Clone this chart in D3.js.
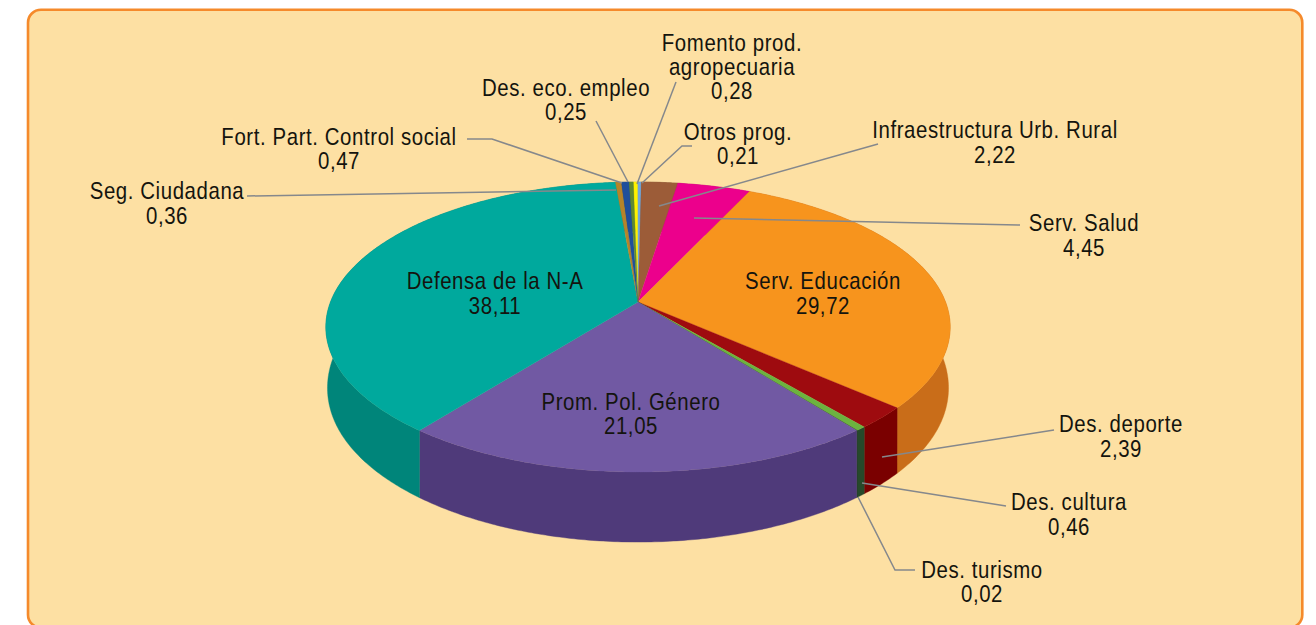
<!DOCTYPE html>
<html><head><meta charset="utf-8">
<script src="https://cdn.jsdelivr.net/npm/d3@7/dist/d3.min.js"></script>
<style>html,body{margin:0;padding:0;background:#fff;overflow:hidden}svg{display:block}
text{font-family:"Liberation Sans",sans-serif;font-size:24px;letter-spacing:.7px;fill:#14140e;text-anchor:middle}</style>
</head><body><svg id="c" width="1316" height="625"></svg>
<script>
const categories=["Fomento prod.|agropecuaria","Otros prog.","Infraestructura Urb. Rural","Serv. Salud","Serv. Educación","Des. deporte","Des. cultura","Des. turismo","Prom. Pol. Género","Defensa de la N-A","Seg. Ciudadana","Fort. Part. Control social","Des. eco. empleo"];
const values=[0.28,0.21,2.22,4.45,29.72,2.39,0.46,0.02,21.05,38.11,0.36,0.47,0.25];
const valueLabels=["0,28","0,21","2,22","4,45","29,72","2,39","0,46","0,02","21,05","38,11","0,36","0,47","0,25"];
const topColors=["#fff200","#6fa8dc","#9c5c38","#ec008c","#f7941d","#9e0b0f","#6cb33f","#26492a","#7159a3","#00a99d","#b5842a","#1f4f9c","#5f8a33"];
const sideColors=["#ccc200","#5686b0","#7c4a2c","#bd0070","#c96d19","#7a0000","#26492a","#1c3620","#4f3a7a","#00857a","#90691f","#183e7c","#4c6e28"];
// label layout: centre x, baseline of each line
const labelPos=[[732,51,24],[738,140,24],[995,138,25],[1084,231,25],[823,289,25],[1121,432,25],[1069,510,25],[982,578,24],[631,410,24],[495,289,25],[167,199,25],[339,145,24],[566,96,24]];
// leader polylines in page space (null = none)
const leaders=[[[676,82],[637,184]],[[692,146],[682,146],[642,183]],[[878,144],[659,206]],[[1020,225],[694,218]],null,[[1054,430],[882,457]],[[1006,506],[862,483]],[[915,570],[895,570],[858,497]],null,null,[[247,196],[616,190]],[[467,139],[492,139],[622,183]],[[596,121],[628,182]]];

const svg=d3.select("#c");
svg.append("rect").attr("x",28).attr("y",9.7).attr("width",1274.3).attr("height",618).attr("rx",13)
  .attr("fill","#fde0a3").attr("stroke","#f58a2b").attr("stroke-width",2.6);

// perspective projection of the pie disc
const cx=638,cy=302,R=307.5,S=140.7,k=0.1724,D=58,rot=-0.018;
const proj=(a,z)=>{const x=Math.sin(a),y=Math.cos(a),w=1+k*y,sh=1-z*0.006*Math.pow(x,8);return [cx+R*x*sh/w,cy-S*y/w+z*D/w];};
const arcs=d3.pie().sort(null).value(d=>d).startAngle(rot).endAngle(2*Math.PI+rot)(values);
const line=d3.line();
const samples=(a0,a1)=>{const n=Math.max(2,Math.ceil((a1-a0)/0.01));return d3.range(n+1).map(i=>a0+(a1-a0)*i/n);};

const walls=svg.append("g");
arcs.forEach((d,i)=>{
  const s=samples(d.startAngle,d.endAngle);
  const pts=s.map(a=>proj(a,0)).concat(s.slice().reverse().map(a=>proj(a,1)));
  walls.append("path").attr("d",line(pts)+"Z").attr("fill",sideColors[i]).attr("stroke",sideColors[i]).attr("stroke-width",0.4);
});
const tops=svg.append("g");
arcs.forEach((d,i)=>{
  const s=samples(d.startAngle,d.endAngle);
  const pts=[[cx,cy]].concat(s.map(a=>proj(a,0)));
  tops.append("path").attr("d",line(pts)+"Z").attr("fill",topColors[i]).attr("stroke",topColors[i]).attr("stroke-width",0.3);
});
const lg=svg.append("g").attr("fill","none").attr("stroke","#85888c").attr("stroke-width",1.5);
leaders.forEach(l=>{if(l)lg.append("path").attr("d",line(l));});
const tg=svg.append("g");
categories.forEach((c,i)=>{
  const [x,y,lh]=labelPos[i];
  c.split("|").concat(valueLabels[i]).forEach((t,j)=>{
    tg.append("text").attr("transform",`translate(${x},${y+j*lh}) scale(0.85,1)`).text(t);
  });
});
</script></body></html>
